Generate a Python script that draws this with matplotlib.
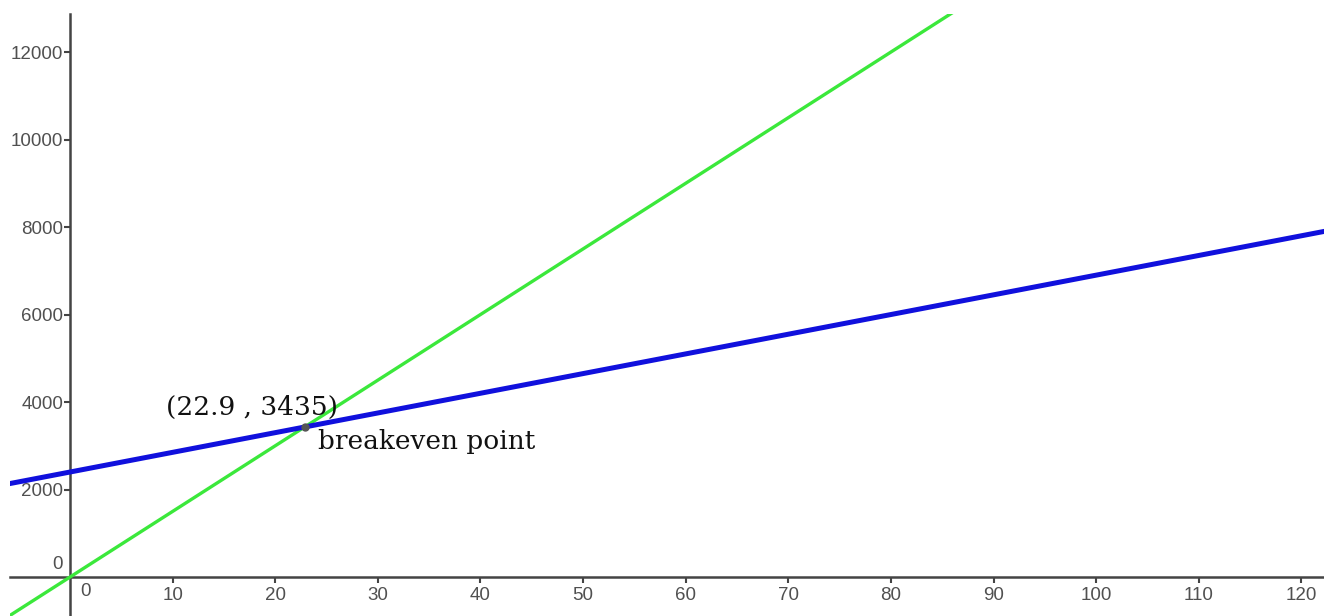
import numpy as np
import matplotlib.pyplot as plt

# break-even model: revenue vs cost
x_range = [-6, 123]
revenue_slope = 150
cost_fixed = 2400
cost_slope = 45
breakeven = (22.9, 3435)

x_ticks = [10, 20, 30, 40, 50, 60, 70, 80, 90, 100, 110, 120]
y_ticks = [2000, 4000, 6000, 8000, 10000, 12000]

x = np.array(x_range)
revenue = revenue_slope * x
cost = cost_fixed + cost_slope * x

fig = plt.figure(figsize=(13.24, 6.16), dpi=100)
ax = fig.add_axes([10 / 1324, 0, 1 - 10 / 1324, 1 - 14 / 616])

ax.plot(x, revenue, color="#3be83b", lw=2.4, zorder=3, solid_capstyle="butt")
ax.plot(x, cost, color="#1010dd", lw=3.6, zorder=4, solid_capstyle="butt")
ax.plot(*breakeven, "o", color="#555555", ms=5, zorder=5)

ax.set_xlim(-5.85, 122.2)
ax.set_ylim(-891, 12869)

for s in ["top", "right"]:
    ax.spines[s].set_visible(False)
ax.spines["left"].set_position(("data", 0))
ax.spines["bottom"].set_position(("data", 0))
for s in ["left", "bottom"]:
    ax.spines[s].set_color("#444444")
    ax.spines[s].set_linewidth(1.8)
    ax.spines[s].set_zorder(2)

tick_font = dict(family="Liberation Sans", size=13.5, color="#505050")
ax.set_xticks(x_ticks)
ax.set_xticklabels([str(v) for v in x_ticks], **tick_font)
ax.set_yticks(y_ticks)
ax.set_yticklabels([str(v) for v in y_ticks], **tick_font)
ax.tick_params(axis="x", direction="out", length=4, width=1.5, color="#444444", pad=3)
ax.tick_params(axis="y", direction="out", length=4, width=1.5, color="#444444", pad=1)

# zero labels next to the origin
ax.annotate("0", (0, 0), xytext=(10, -6), textcoords="offset pixels",
            ha="left", va="top", **tick_font)
ax.annotate("0", (0, 0), xytext=(-7, 4), textcoords="offset pixels",
            ha="right", va="bottom", **tick_font)

lab_font = dict(family="DejaVu Serif", size=19, color="#111111")
ax.annotate("(22.9 , 3435)", breakeven, xytext=(-139, 19), textcoords="offset pixels",
            ha="left", va="center", **lab_font)
ax.annotate("breakeven point", breakeven, xytext=(13, -22), textcoords="offset pixels",
            ha="left", va="baseline", **lab_font)

fig.savefig("out.png", dpi=100, facecolor="white")
